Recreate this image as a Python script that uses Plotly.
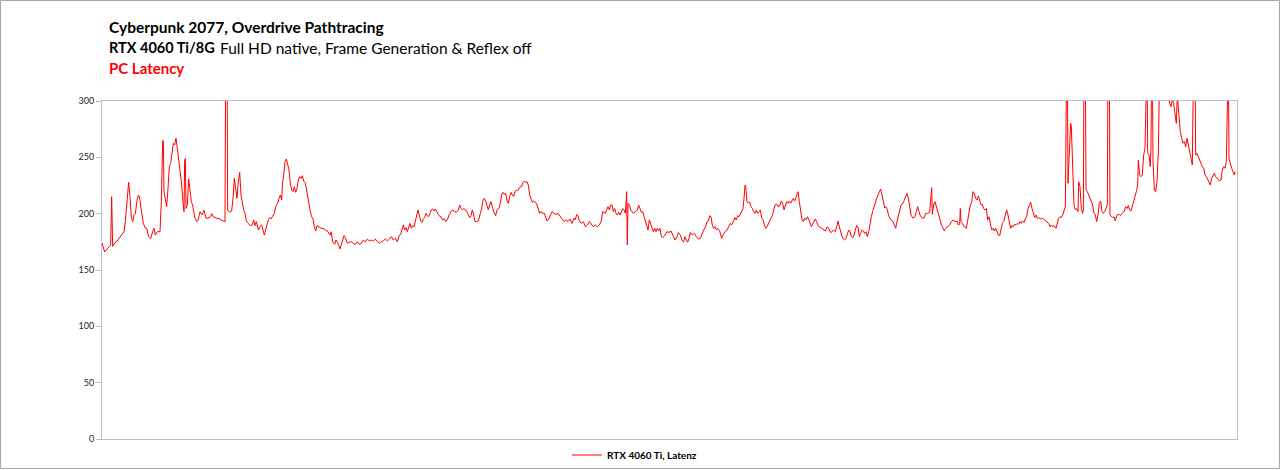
import plotly.graph_objects as go

# Sample index (frame position along the run) and PC latency (ms)
frame_a = [0,8,18,26,29,32,38,48,58,66,70,76,80,84,88,92,96,100,106,110,114,118,124,130,134,140,146,152,156,160,166,174,178,182,184,186,190,194,198,202,206,210,214,218,222,226,230,234,238,242,246,248,250,252,256,260,264,268,272,278,284,288,294,300,306,312,318,324,330]
lat_a = [174,166,169.5,172,215,171,174,176.6,181,184,193,219.5,228,215,197,193,199,200,213.6,216.5,212,203,191.4,187,187,179.6,178,184,187,181,184,184,210.6,264,265,219.5,213.6,206,222.5,241.7,244.6,255,262.5,261,267,258,247.6,243,228.7,213.6,201.7,247.6,249,204.6,207.5,231,222.5,210.6,207.5,197,193,194,201.7,199,203,196,196,197,200]

frame_b = [333,343,353,363,369,371,375,377,383,389,393,397,401,405,409,413,417,421,425,429,433,439,445,451,455,459,463,469,473,479,483,487,491,495,499,503,507,511,517,521,527,531,535,539,541,545,549,553,557,561,565,569,573,577,581,585,589,593,597,601,605,609,613,617,621,625,629,633,637,641,645,651,657,663,669]
lat_b = [197.3,196,195.3,193.5,193,340,340,203.3,201.2,202.3,213.6,231.4,221,213.6,228.4,236.7,216.6,207.7,203.3,200.3,193.5,191.4,189.4,190,194.5,189.4,193,185.5,188.4,190,184,181,185.5,191.4,194.5,196.5,195.3,197.3,200.3,206.2,209.2,213.6,216.6,212.1,225.4,234.3,246.2,248.5,244.7,238.8,226.9,221,219.5,224,218.9,222.5,229.9,232.8,231.4,233.7,229,227.8,222.5,215,207.7,201.8,197.3,195.3,188.4,184.6,189.4,188.4,187,187,185.5]

frame_c = [672,678,684,688,692,698,702,708,714,720,726,730,736,742,748,754,760,766,772,778,784,790,796,802,808,814,820,826,832,838,844,850,856,862,868,874,880,886,892,896,900,904,908,912,916,920,924,928,932,936,940,944,948,952,956,960,964,968,972,976,980,984,988,992,996,1000,1004,1008]
lat_c = [185.5,184,181,184,175.1,172.8,176.6,173.7,168.6,175.1,180.5,178.7,173.7,174.6,175.1,173.7,172.8,175.1,172.8,173.7,176.6,175.1,177.5,175.8,176.6,175.8,177.5,175.1,173.7,175.1,175.8,177.5,175.8,177.5,179.6,176.6,178.1,175.1,181,181.6,187,190,185.5,187.6,184,188.4,191.4,187,189.4,188.4,194.5,198.8,203.3,198.8,193.5,192.2,195.3,196.5,200.3,198.2,197.3,200.3,203.3,204.1,202.3,204.1,201.8,200.3]

frame_d = [1011,1017,1021,1027,1031,1037,1041,1047,1051,1057,1063,1069,1073,1077,1081,1085,1091,1097,1103,1107,1111,1115,1119,1123,1129,1135,1139,1143,1147,1151,1155,1159,1163,1167,1171,1175,1181,1185,1191,1195,1199,1203,1207,1211,1215,1219,1223,1227,1231,1235,1239,1243,1247,1251,1255,1259,1263,1267,1271,1275,1279,1283,1287,1291,1295,1301,1305,1309,1313,1317,1321,1327,1331,1335,1339,1343,1347]
lat_d = [198.2,197.3,194.5,195.3,193,195.3,198.8,201.8,203.3,202.3,201.2,203.3,207.7,204.6,203.3,204.6,203.3,200.3,196.5,198.2,203.3,198.8,193,193,193.5,200.3,204.6,212.1,213.6,211.2,206.2,203.3,207.7,210.6,206.2,201.8,198.2,203.3,204.6,209.2,216.6,218.9,217.2,218,211.2,209.2,215.1,218.9,216.6,215.1,219.5,221,220.4,222.5,224,224,227.8,229,227.8,228.4,225.4,216.6,212.1,210.1,211.2,210.1,207.7,203.3,200.3,201.8,200.3,200.3,195.9,193.5,194.5,197.3,198.8]

frame_e = [1350,1356,1362,1368,1374,1380,1386,1392,1398,1404,1410,1416,1420,1424,1428,1432,1438,1444,1450,1456,1462,1468,1474,1480,1486,1492,1498,1502,1506,1510,1514,1518,1522,1526,1530,1534,1538,1542,1546,1550,1554,1558,1562,1566,1570,1574,1576,1578,1582,1586,1590,1594,1598,1602,1606,1610,1614,1618,1622,1626,1630,1634,1638,1642,1646,1650,1654,1658,1662,1666,1670,1674,1678,1682,1686]
lat_e = [201.8,200.3,199.4,200.3,197.3,195.3,193,194.5,193,195.3,191.4,195.9,194.5,199.4,198.2,193.5,191.4,193,188.4,190,193,190.6,188.4,190,188.4,190,193.5,201.8,201.2,200.3,203.3,206.2,203.3,207.7,207.7,201.8,204.6,200.3,198.8,201.2,198.8,201.8,204.6,203.3,200.3,219.5,172.2,209.2,207.7,203.3,201.8,200.3,201.2,202.3,203.3,207.7,204.6,201.2,201.8,197.3,193.5,190,185.5,194.5,191.4,187,184,187,184,187,184.6,187,179.6,178.7,179.6]

frame_f = [1689,1695,1701,1707,1713,1719,1725,1729,1735,1741,1745,1749,1753,1757,1761,1765,1771,1777,1783,1789,1795,1799,1805,1811,1815,1819,1823,1827,1831,1835,1839,1843,1847,1853,1859,1863,1869,1875,1879,1885,1889,1895,1899,1903,1907,1911,1915,1919,1923,1927,1929,1931,1935,1939,1943,1947,1951,1955,1959,1963,1967,1971,1975,1979,1983,1987,1991,1995,1999,2003,2007,2011,2015,2019,2023,2027]
lat_f = [181,184,183.3,184.6,181,176.6,179.6,183.3,181,175.8,175.1,179.6,176.6,174.6,178.1,183.3,181,182.5,179.6,177.5,178.1,181.6,185.5,188.4,193,193.5,198.2,197.3,190,187,188.4,185.5,187,184.6,178.1,181,184,185.5,188.4,191.4,190,194.5,196.5,194.5,198.2,197.3,200.3,203.3,204.6,216.6,225.4,224,210.6,209.2,210.6,206.2,204.6,201.8,200.3,203.3,200.3,201.8,203.3,196.5,194.5,190,187,188.4,191.4,193.5,195.9,198.2,204.6,207.7,208.2,207.7]

frame_g = [2028,2034,2038,2042,2046,2050,2054,2058,2062,2066,2070,2074,2078,2082,2086,2088,2092,2096,2100,2104,2108,2112,2116,2120,2124,2128,2132,2136,2140,2144,2148,2152,2158,2164,2170,2176,2180,2184,2188,2194,2200,2204,2208,2212,2216,2220,2224,2228,2232,2236,2240,2244,2248,2252,2256,2260,2264,2268,2272,2276,2280,2284,2288,2292,2296,2300,2304,2308,2312,2316,2320,2324,2328,2332,2336,2340,2344,2348,2352,2356,2360,2364]
lat_g = [206.2,207.7,211.2,209.2,203.3,207.7,210.6,209.2,211.2,209.2,212.1,213.6,211.2,215.1,218,219.5,210.6,200.3,194.5,193,195.9,194.5,197.3,195.3,191.4,188.4,190.6,193.5,195.3,193,189.4,188.4,187,186.4,184.6,188.4,187,184,183.3,185.5,184,188.4,193.5,188.4,182.5,179.6,177.5,176.6,178.1,182.5,185.5,184,179.6,178.7,181,185.5,189.4,188.4,179.6,182.5,185.5,184.6,182.5,184,179.6,184,191.4,197.3,201.8,206.2,211.2,213.6,216.6,219.5,221.9,216.6,210.6,205.2,206.2,203.3,198.2,195.9]

frame_h = [2367,2373,2377,2381,2385,2389,2393,2397,2403,2407,2411,2415,2419,2423,2427,2433,2439,2443,2447,2451,2455,2461,2467,2471,2477,2483,2487,2489,2491,2495,2499,2503,2507,2511,2515,2519,2523,2527,2531,2537,2543,2547,2553,2559,2565,2569,2573,2575,2577,2581,2587,2593,2597,2601,2605,2609,2613,2617,2621,2625,2629,2633,2637,2641,2645,2649,2653,2657,2661,2665,2669,2673,2677,2681,2685,2689,2693,2697,2701,2705]
lat_h = [194.5,193,189.4,187,193,198.8,204.6,207.7,209.2,212.1,215.1,218,213.6,204.6,198.8,195.9,197.3,201.8,206.2,201.8,198.2,195.9,196.5,200.3,200.3,201.2,222.5,223,199.4,207.7,210.6,206.2,201.8,195.9,193,189.4,187,184.6,187,188.4,190,192.2,194.5,193,193.5,190,190.6,204.6,193,191.4,188.4,187,193,198.8,207.7,210.1,219.5,218,213.6,212.1,215.7,212.1,207.7,208.2,204.6,203.3,204.6,194.5,197.3,191.4,185.5,187,184.6,187,184,181,180.5,185.5,191.4,193]

frame_i = [2706,2710,2714,2718,2722,2726,2730,2734,2738,2742,2746,2750,2754,2758,2762,2766,2770,2774,2778,2782,2786,2790,2794,2798,2802,2806,2810,2816,2822,2828,2834,2840,2844,2848,2852,2856,2862,2866,2870,2874,2878,2882,2886,2890,2894,2896,2898,2902,2906,2908,2912,2916,2920,2924,2928,2930,2934,2938,2942,2944,2946,2950,2952,2956,2960,2964,2968,2972,2976,2980,2984,2988,2992,2996,3000,3004,3008,3012,3016,3018,3022,3024,3028,3032,3036,3040,3044]
lat_i = [194.5,198.8,203.3,198.8,191.4,187,189.4,188.4,190.6,190,191.4,190.6,193,191.4,193.5,192.2,195.3,197.3,204.6,207.7,210.1,204.6,200.3,196.5,198.8,195.9,196.5,195.3,195.9,194.5,193.5,191.4,188.4,190,188.4,189.4,187,191.4,195.9,197.3,196.5,198.8,203.3,206.2,340,340,226.9,252,280.2,277,237.3,207.7,203.3,204.6,201.8,228.4,224,204.6,200.3,203.3,340,340,221,219.5,216.6,213.6,212.1,207.7,200.3,198.8,193,198.8,209.2,211.2,201.8,200.3,201.8,204.6,207.7,340,340,198.8,197.3,196.5,197.3,193.5,198.2]

frame_j = [3045,3051,3055,3061,3067,3071,3075,3079,3083,3087,3091,3095,3099,3103,3107,3109,3113,3117,3121,3125,3129,3131,3133,3135,3137,3141,3145,3147,3149,3151,3153,3157,3161,3165,3169,3171,3173,3180,3190,3200,3203,3207,3211,3215,3219,3223,3225,3227,3231,3235,3239,3243,3247,3251,3255,3259,3263,3267,3271,3273,3275,3279,3281,3285,3289,3293,3297,3301,3305,3309,3313,3317,3321,3325,3329,3333,3337,3341,3345,3349,3353,3357,3361,3365,3369,3373,3375,3379,3381,3385,3389,3393,3397,3399]
lat_j = [198.8,199.4,198.2,200.3,202.3,206.2,204.6,207.2,203.3,202.3,206.2,210.6,215.1,219.5,225.4,247.6,234.3,232.8,234.3,252,258,289.6,340,340,253.4,252,241.7,260,340,340,247,221,219.5,228.4,254.9,293.9,330,320,330,310,298,295,301,298,289.6,280.2,299.4,301,286.6,272.8,266.9,262.5,264,259.3,266.9,260.8,253.4,247.6,243.2,296,340,340,252,253.4,250.5,247.6,243.2,241.7,240.3,234.3,232.8,229.9,227.8,225.4,231.4,234.3,235.8,232.8,231.4,229.9,229,229.9,238.8,241.7,240.3,246.2,340,340,249,243.2,240.3,237.3,234.3,237.3]

frames_parts = [frame_a, frame_b, frame_c, frame_d, frame_e, frame_f, frame_g, frame_h, frame_i, frame_j]
lat_parts = [lat_a, lat_b, lat_c, lat_d, lat_e, lat_f, lat_g, lat_h, lat_i, lat_j]
for fp, lp in zip(frames_parts, lat_parts):
    assert len(fp) == len(lp), (len(fp), len(lp), fp[0])

frame = [f for part in frames_parts for f in part]
latency_ms = [v for part in lat_parts for v in part]
x_max = 3405

y_ticks = [0, 50, 100, 150, 200, 250, 300]
series_name = "RTX 4060 Ti, Latenz"
title_1 = "Cyberpunk 2077, Overdrive Pathtracing"
title_2_bold = "RTX 4060 Ti/8G"
title_2_rest = "Full HD native, Frame Generation & Reflex off"
title_3 = "PC Latency"

FONT = "Lato"
GRID = "#BFBFBF"

fig = go.Figure()
fig.add_trace(go.Scatter(
    x=frame, y=latency_ms, mode="lines", name=series_name,
    line=dict(color="#FF0000", width=1),
))

W, H = 1280, 470
ml, mr, mt, mb = 102, 43, 101, 31
pw, ph = W - ml - mr, H - mt - mb

def px_x(px):
    return (px - ml) / pw

def px_y(py):
    return (H - mb - py) / ph

def title_ann(text, px, py, size, color="#000000", family=FONT):
    return dict(xref="paper", yref="paper", x=px_x(px), y=px_y(py), xanchor="left",
                yanchor="middle", text=text, showarrow=False,
                font=dict(family=family, size=size, color=color))

fig.update_layout(
    width=W, height=H,
    margin=dict(l=ml, r=mr, t=mt, b=mb, pad=0, autoexpand=False),
    paper_bgcolor="white", plot_bgcolor="white",
    font=dict(family=FONT, color="#000000"),
    showlegend=True,
    legend=dict(orientation="h", x=px_x(567), xanchor="left", y=px_y(455), yanchor="middle",
                font=dict(family=FONT, size=10, color="#000000", weight=700),
                itemwidth=30, bgcolor="rgba(0,0,0,0)"),
    xaxis=dict(range=[0, x_max], showgrid=False, zeroline=False, showticklabels=False,
               ticks="", showline=True, linecolor=GRID, linewidth=1, mirror=True),
    yaxis=dict(range=[0, 300], tickvals=y_ticks, showgrid=False, zeroline=False,
               ticks="outside", ticklen=5, tickcolor=GRID, showline=True, linecolor=GRID,
               linewidth=1, mirror=True, tickfont=dict(family=FONT, size=9, color="#222222")),
    annotations=[
        title_ann("<b>" + title_1 + "</b>", 107, 27, 15.5),
        title_ann("<b>" + title_2_bold + "</b>", 107, 48, 14.5),
        title_ann(title_2_rest, 218, 48, 15.5),
        title_ann("<b>" + title_3 + "</b>", 107, 68, 15, color="#FF0000"),
    ],
    shapes=[
        dict(type="rect", xref="paper", yref="paper", x0=px_x(0.5), x1=px_x(1279.5),
             y0=px_y(468.5), y1=px_y(0.5), line=dict(color="#A6A6A6", width=1),
             fillcolor="rgba(0,0,0,0)", layer="below"),
    ],
)

fig.write_html("out.html")
